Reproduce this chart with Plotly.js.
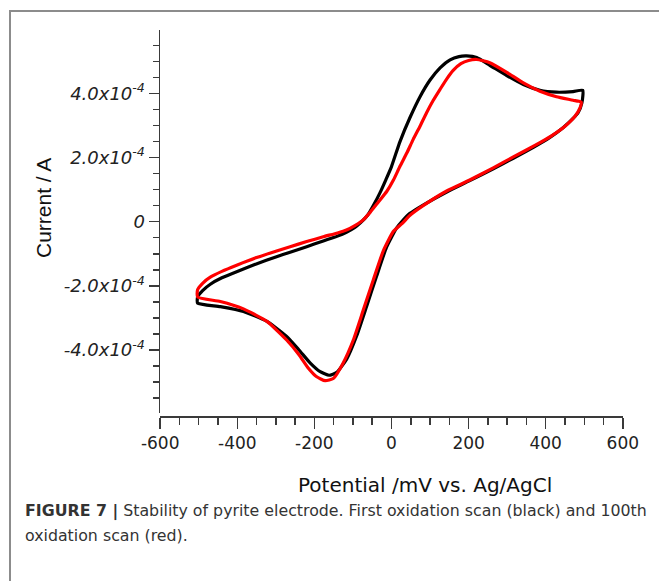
<!DOCTYPE html>
<html>
<head>
<meta charset="utf-8">
<script src="https://cdn.plot.ly/plotly-3.0.1.min.js"></script>
<style>
  html, body { margin: 0; padding: 0; background: #fff; }
  #wrap { position: relative; width: 659px; height: 581px; overflow: hidden; }
  #chart { position: absolute; left: 0; top: 0; width: 659px; height: 581px; }
  #frame { position: absolute; left: 9px; top: 10px; width: 700px; height: 700px;
           border-top: 2px solid #8c8c8c; border-left: 2px solid #8c8c8c; pointer-events: none; }
</style>
</head>
<body>
<div id="wrap">
  <div id="chart"></div>
  <div id="frame"></div>
</div>
<script>
// ---- Data (potential in mV vs Ag/AgCl, current in A) ----
const potFirst = [-503,-490,-470,-440,-400,-349,-300,-263,-220,-177,-140,-117,-95,-80,-62,-45,-30,-15,0,22,48,74,100,126,152,175,195,221,255,299,342,385,428,471,496,
  494,484,471,445,411,368,316,264,203,142,82,48,28,13,-13,-39,-64,-90,-116,-142,-162,-185,-210,-240,-272,-323,-384,-444,-503,-503];
const curFirst = [-2.35e-4,-2.15e-4,-1.95e-4,-1.75e-4,-1.55e-4,-1.31e-4,-1.10e-4,-0.95e-4,-0.78e-4,-0.60e-4,-0.45e-4,-0.33e-4,-0.18e-4,-0.03e-4,0.20e-4,0.55e-4,0.90e-4,1.30e-4,1.72e-4,2.50e-4,3.25e-4,3.90e-4,4.42e-4,4.80e-4,5.05e-4,5.15e-4,5.17e-4,5.12e-4,4.88e-4,4.56e-4,4.28e-4,4.10e-4,4.04e-4,4.06e-4,4.10e-4,
  3.71e-4,3.40e-4,3.22e-4,2.93e-4,2.63e-4,2.32e-4,1.98e-4,1.65e-4,1.28e-4,0.92e-4,0.52e-4,0.26e-4,0.02e-4,-0.20e-4,-0.80e-4,-1.71e-4,-2.62e-4,-3.55e-4,-4.28e-4,-4.70e-4,-4.79e-4,-4.68e-4,-4.42e-4,-4.00e-4,-3.58e-4,-3.11e-4,-2.80e-4,-2.65e-4,-2.54e-4,-2.35e-4];

const pot100th = [-503,-490,-470,-440,-400,-350,-300,-263,-220,-177,-140,-117,-95,-74,-55,-35,-12,5,22,40,56,74,91,108,126,143,160,180,200,221,255,299,342,385,428,471,492,
  489,476,450,415,372,316,264,203,142,82,48,28,5,-21,-47,-73,-99,-126,-151,-172,-195,-215,-240,-272,-323,-384,-444,-503,-503];
const cur100th = [-2.12e-4,-1.92e-4,-1.73e-4,-1.55e-4,-1.35e-4,-1.12e-4,-0.92e-4,-0.78e-4,-0.62e-4,-0.47e-4,-0.35e-4,-0.26e-4,-0.12e-4,0.05e-4,0.30e-4,0.60e-4,0.95e-4,1.30e-4,1.73e-4,2.15e-4,2.56e-4,2.98e-4,3.40e-4,3.78e-4,4.13e-4,4.45e-4,4.72e-4,4.93e-4,5.03e-4,5.06e-4,4.96e-4,4.66e-4,4.33e-4,4.07e-4,3.90e-4,3.79e-4,3.73e-4,
  3.55e-4,3.29e-4,2.98e-4,2.68e-4,2.38e-4,2.02e-4,1.68e-4,1.30e-4,0.95e-4,0.50e-4,0.20e-4,-0.05e-4,-0.30e-4,-0.90e-4,-1.81e-4,-2.75e-4,-3.69e-4,-4.42e-4,-4.89e-4,-4.96e-4,-4.83e-4,-4.58e-4,-4.15e-4,-3.69e-4,-3.11e-4,-2.72e-4,-2.49e-4,-2.35e-4,-2.12e-4];

const xTickVals = [-600,-400,-200,0,200,400,600];
const xTickText = ['-600','-400','-200','0','200','400','600'];
const yTickVals = [-4e-4,-2e-4,0,2e-4,4e-4];
const yTickText = ['<i>-4.0x10<sup>-4</sup></i>','<i>-2.0x10<sup>-4</sup></i>','<i>0</i>','<i>2.0x10<sup>-4</sup></i>','<i>4.0x10<sup>-4</sup></i>'];

const xTitle = 'Potential /mV vs. Ag/AgCl';
const yTitle = 'Current / A';
const captionLine1 = '<b>FIGURE 7 |</b> Stability of pyrite electrode. First oxidation scan (black) and 100th';
const captionLine2 = 'oxidation scan (red).';

// ---- Plot ----
const L = 160, R = 36, T = 30, B = 165, W = 659, H = 581;
const pw = W - L - R, ph = H - T - B;
const px = v => (v - L) / pw;
const py = v => (H - B - v) / ph;

const axisCol = '#3a3a3a';
const traces = [
  { x: potFirst, y: curFirst, mode: 'lines', line: { color: '#000000', width: 3.2, shape: 'spline', smoothing: 0.5 }, showlegend: false, hoverinfo: 'skip' },
  { x: pot100th, y: cur100th, mode: 'lines', line: { color: '#ff0000', width: 3.2, shape: 'spline', smoothing: 0.5 }, showlegend: false, hoverinfo: 'skip' }
];

const layout = {
  width: W, height: H,
  margin: { l: L, r: R, t: T, b: B, pad: 0 },
  paper_bgcolor: '#ffffff', plot_bgcolor: '#ffffff',
  showlegend: false,
  xaxis: {
    range: [-600.5, 600.5], anchor: 'free', position: 0,
    tickmode: 'array', tickvals: xTickVals, ticktext: xTickText,
    ticks: 'outside', ticklen: 11, tickwidth: 1.5, tickcolor: axisCol,
    minor: { tickmode: 'linear', tick0: 0, dtick: 50, ticks: 'outside', ticklen: 7, tickwidth: 1.5, tickcolor: axisCol, showgrid: false },
    showline: true, linecolor: axisCol, linewidth: 1.5,
    showgrid: false, zeroline: false,
    tickfont: { family: 'DejaVu Sans', size: 17, color: '#222' }
  },
  yaxis: {
    range: [-5.98e-4, 5.98e-4], domain: [0.0067, 1],
    tickmode: 'array', tickvals: yTickVals, ticktext: yTickText,
    ticks: 'outside', ticklen: 10, tickwidth: 1.5, tickcolor: axisCol,
    minor: { tickmode: 'linear', tick0: 0, dtick: 0.5e-4, ticks: 'outside', ticklen: 6, tickwidth: 1.5, tickcolor: axisCol, showgrid: false },
    showline: true, linecolor: axisCol, linewidth: 1.5,
    showgrid: false, zeroline: false,
    tickfont: { family: 'DejaVu Sans', size: 18, color: '#222' }
  },
  annotations: [
    { text: xTitle, xref: 'paper', yref: 'paper', x: px(425), y: py(485), xanchor: 'center', yanchor: 'middle', showarrow: false,
      font: { family: 'DejaVu Sans', size: 20, color: '#111' } },
    { text: yTitle, xref: 'paper', yref: 'paper', x: px(43), y: py(208), xanchor: 'center', yanchor: 'middle', showarrow: false, textangle: -90,
      font: { family: 'Liberation Sans', size: 21, color: '#111' } },
    { text: captionLine1, xref: 'paper', yref: 'paper', x: px(23), y: py(511), xanchor: 'left', yanchor: 'middle', align: 'left', showarrow: false,
      font: { family: 'DejaVu Sans', size: 15.8, color: '#333' } },
    { text: captionLine2, xref: 'paper', yref: 'paper', x: px(23), y: py(535), xanchor: 'left', yanchor: 'middle', align: 'left', showarrow: false,
      font: { family: 'DejaVu Sans', size: 15.8, color: '#333' } }
  ]
};

Plotly.newPlot('chart', traces, layout, { staticPlot: true, displayModeBar: false });
</script>
</body>
</html>
